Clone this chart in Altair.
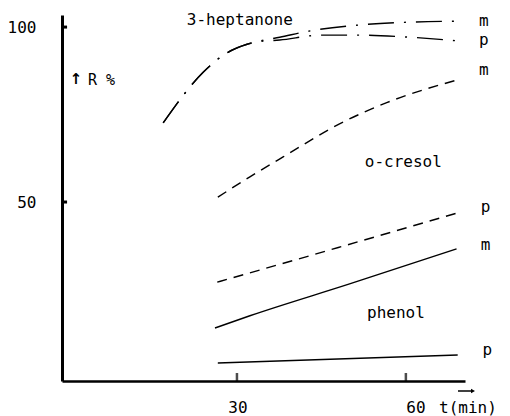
import altair as alt
import pandas as pd

# ---- data (t in min, R in %) ----
hept_m_t = [16.9, 24.0, 28.2, 31.8, 33.2, 37.6, 43.0, 51.8, 60.7, 69.6]
hept_m_r = [72.6, 87.1, 92.6, 95.1, 95.7, 97.1, 98.9, 100.6, 101.4, 101.7]
hept_p_t = [16.9, 24.0, 28.2, 31.8, 33.2, 37.6, 45.0, 51.8, 60.7, 69.6]
hept_p_r = [72.6, 87.1, 92.6, 95.1, 95.7, 96.3, 97.7, 97.7, 97.1, 96.0]

cresol_m_t = [26.6, 32.3, 38.2, 48.3, 56.6, 69.6]
cresol_m_r = [51.4, 57.2, 62.9, 72.4, 78.4, 85.1]
cresol_p_t = [26.5, 48.0, 69.2]
cresol_p_r = [27.1, 37.0, 46.9]

phenol_m_t = [26.1, 32.3, 50.0, 69.0]
phenol_m_r = [14.0, 17.5, 26.6, 36.6]
phenol_p_t = [26.6, 69.2]
phenol_p_r = [4.0, 6.3]

y_ticks = [50, 100]
x_ticks = [30, 60]

label_text = ["3-heptanone", "m", "p", "m", "o-cresol", "p", "m", "phenol", "p"]
label_t = [21.1, 73.0, 73.0, 73.0, 52.7, 73.3, 73.3, 53.1, 73.6]
label_r = [102.0, 101.7, 96.3, 87.7, 61.4, 48.6, 37.7, 18.3, 7.7]

X_DOM = [-1.07, 70.5]
Y_DOM = [-1.15, 103.45]
MONO = "DejaVu Sans Mono"
W, H = 403, 366

xs = alt.Scale(domain=X_DOM, nice=False, zero=False)
ys = alt.Scale(domain=Y_DOM, nice=False, zero=False)

x_axis = alt.Axis(values=x_ticks, labels=False, ticks=False, domainWidth=2.5,
                  domainColor="black", grid=False, title=None)
y_axis = alt.Axis(values=y_ticks, ticks=False, domainWidth=3, domainColor="black",
                  grid=False, title=None, labelFont=MONO, labelFontSize=16,
                  labelColor="black", labelPadding=26)


def X(field):
    return alt.X(field, scale=xs, axis=x_axis)


def Y(field):
    return alt.Y(field, scale=ys, axis=y_axis)


def df(t, r, name):
    return pd.DataFrame({"t": t, "r": r, "series": name})


def line(d, dash=None):
    kw = dict(color="black", strokeWidth=1.4, interpolate="monotone")
    if dash is not None:
        kw["strokeDash"] = dash
    return alt.Chart(d).mark_line(**kw).encode(
        x=X("t:Q"), y=Y("r:Q"), detail="series:N")


hept = pd.concat([df(hept_m_t, hept_m_r, "hm"), df(hept_p_t, hept_p_r, "hp")])
cres = pd.concat([df(cresol_m_t, cresol_m_r, "cm"), df(cresol_p_t, cresol_p_r, "cp")])
phen = pd.concat([df(phenol_m_t, phenol_m_r, "pm"), df(phenol_p_t, phenol_p_r, "pp")])

# small inward tick marks (y ticks point right, x ticks point up)
ytick_df = pd.DataFrame({"v": y_ticks, "a": X_DOM[0], "b": X_DOM[0] + 0.9})
ytick = alt.Chart(ytick_df).mark_rule(color="black", strokeWidth=3).encode(
    y=Y("v:Q"), x=X("a:Q"), x2="b:Q")
xtick_df = pd.DataFrame({"v": x_ticks})
xtick = alt.Chart(xtick_df).mark_tick(color="black", thickness=2.5, size=8, orient="vertical",
                                      yOffset=-4).encode(
    x=X("v:Q"), y=alt.value(H))

lab30 = alt.Chart(pd.DataFrame({"v": [x_ticks[0]], "s": [str(x_ticks[0])]})).mark_text(
    font=MONO, fontSize=16, align="center", baseline="middle", dx=1).encode(
    x=X("v:Q"), y=alt.value(H + 27), text="s:N")
lab60 = alt.Chart(pd.DataFrame({"v": [x_ticks[1]], "s": [str(x_ticks[1])]})).mark_text(
    font=MONO, fontSize=16, align="center", baseline="middle", dx=10).encode(
    x=X("v:Q"), y=alt.value(H + 27), text="s:N")

xtitle = alt.Chart(pd.DataFrame({"s": ["t(min)"]})).mark_text(
    font=MONO, fontSize=16, align="left", baseline="middle").encode(
    x=alt.value(377), y=alt.value(H + 27), text="s:N")
xarrow_line = alt.Chart(pd.DataFrame({"s": ["a"]})).mark_rule(color="black", strokeWidth=1.5).encode(
    x=alt.value(396), x2=alt.value(411), y=alt.value(H + 10))
xarrow_head = alt.Chart(pd.DataFrame({"s": ["a"]})).mark_point(
    shape="triangle-right", filled=True, color="black", size=22, opacity=1).encode(
    x=alt.value(411), y=alt.value(H + 10))

ytitle = alt.Chart(pd.DataFrame({"s": ["↑"]})).mark_text(
    font="DejaVu Sans", fontSize=15, align="center", baseline="middle", fontWeight="bold").encode(
    x=alt.value(14), y=alt.value(64), text="s:N")
ytitle2 = alt.Chart(pd.DataFrame({"s": ["R %"]})).mark_text(
    font=MONO, fontSize=15, align="left", baseline="middle").encode(
    x=alt.value(26), y=alt.value(65), text="s:N")

labels = alt.Chart(pd.DataFrame({"s": label_text, "t": label_t, "r": label_r})).mark_text(
    font=MONO, fontSize=16, align="left", baseline="middle", color="black").encode(
    x=X("t:Q"), y=Y("r:Q"), text="s:N")

chart = alt.layer(
    line(hept, [26, 10, 2, 10]),
    line(cres, [10, 7]),
    line(phen),
    ytick, xtick, lab30, lab60, xtitle, xarrow_line, xarrow_head, ytitle, ytitle2, labels,
).properties(
    width=W, height=H,
    padding={"left": 62, "top": 15, "right": 45, "bottom": 35},
    autosize="none",
    background="white",
).configure_view(stroke=None)

chart.save("out.html", embed_options={"renderer": "svg", "actions": False})
